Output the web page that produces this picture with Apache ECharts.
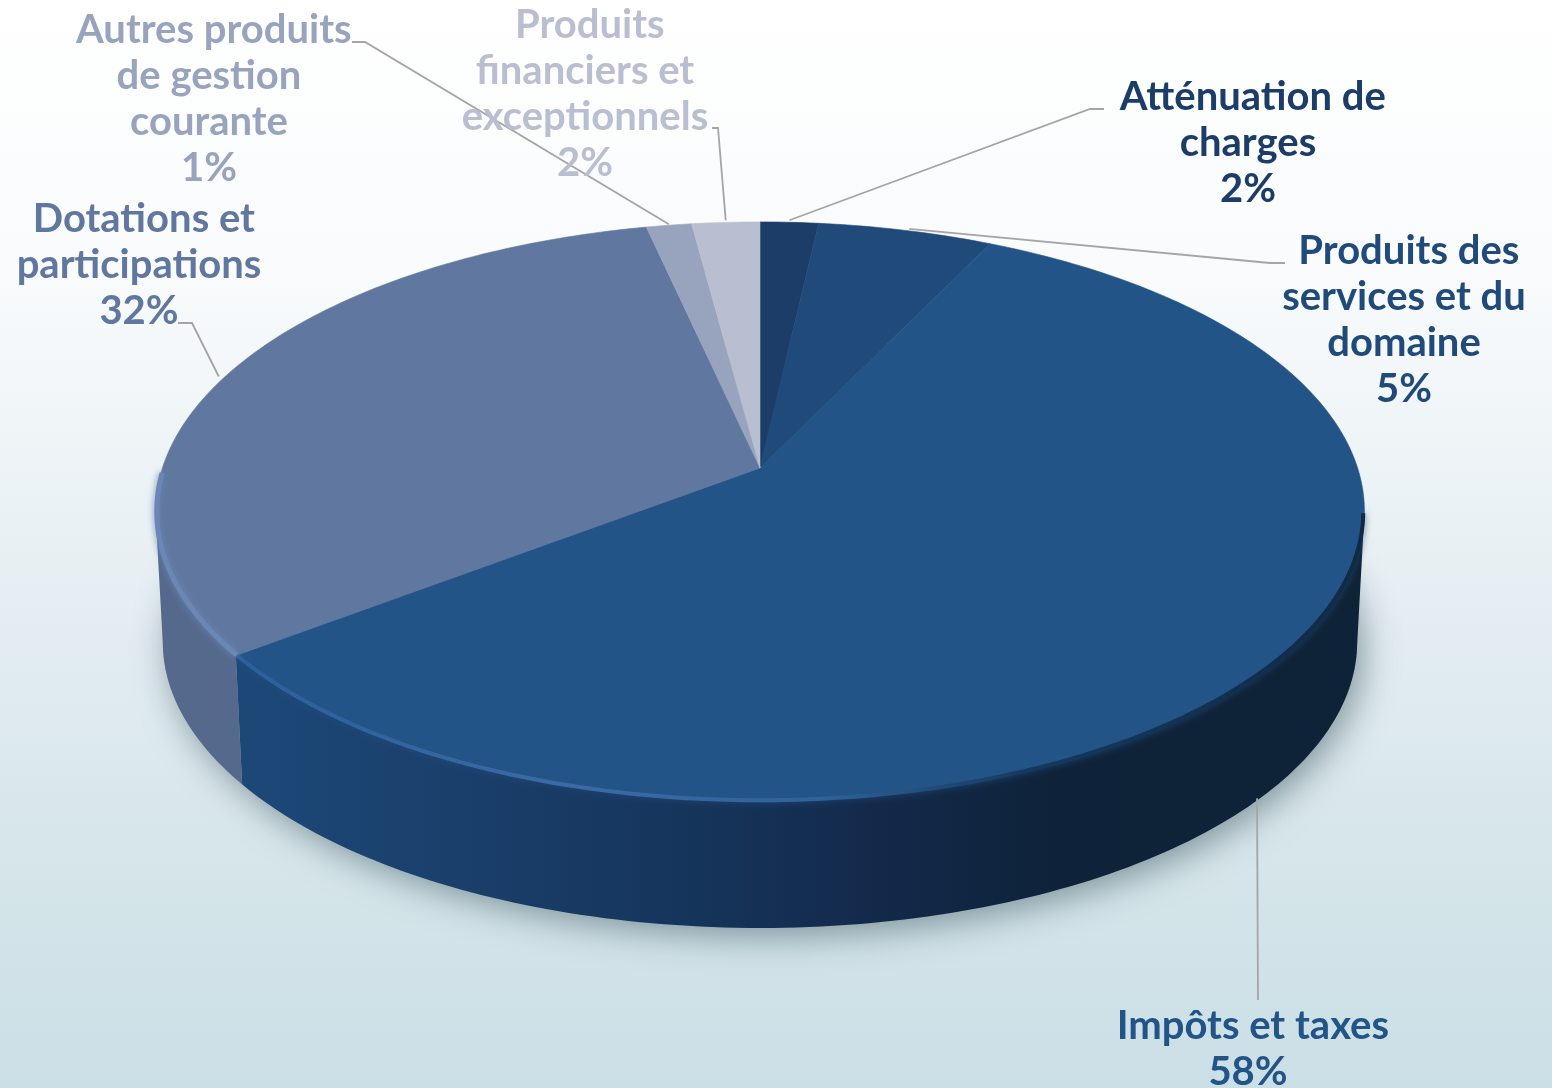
<!DOCTYPE html>
<html>
<head>
<meta charset="utf-8">
<script src="https://cdn.jsdelivr.net/npm/echarts@6/dist/echarts.min.js"></script>
<style>
html, body { margin: 0; padding: 0; background: #fff; }
#chart { width: 1552px; height: 1088px; }
</style>
</head>
<body>
<div id="chart"></div>
<script>
// donnees
var categories = [" Atténuation de\ncharges", " Produits des\nservices et du\ndomaine", " Impôts et taxes", " Dotations et\nparticipations", " Autres produits\nde gestion\ncourante", " Produits\nfinanciers et\nexceptionnels"];
var values = [1.8, 5.4, 57.5, 31.8, 1.4, 2.1];

// couleurs
var topColors = ["#1b3d68", "#1f4a7a", "#225488", "#60779f", "#98a4bd", "#b9bfd0"];
var textColors = ["#1b3d68", "#1f4a7a", "#225488", "#60779f", "#98a4bd", "#b9bfd0"];

// mise en page des etiquettes et des traits de rappel
var labelCenterX = [1248, 1404, 1248, 139, 209, 585];
var labelFirstLineY = [97, 251, 1026, 219, 30, 25];
var leaderElbows = [
    [[1104, 109], [1090, 109]],
    [[1285, 263], [1270, 263]],
    [[1258, 1000], [1258, 1000]],
    [[178, 323], [192, 323]],
    [[352, 42], [365, 42]],
    [[712, 128], [718, 128]]
];
// position du trait le long de la tranche, et decalage pour tomber sur le flanc
var leaderAlong = [0.5, 0.52, 0.51, 0.485, 0.5, 0.5];
var leaderDrop = [-2, -2, 122, -6, -1, -2];

// projection du disque
var cx = 760, cy = 468, A = 597.6, B = 283, K = 0.15;
var DEPTH = 131, BOTTOM_SCALE = 0.988;
var FONT_SIZE = 40, LINE_HEIGHT = 46;
// angles ou le bord du disque est le plus large : le flanc s'arrete la
var SIDE_FROM = 99, SIDE_TO = 261;

function project(deg, scale, dy) {
    var t = deg * Math.PI / 180;
    var u = Math.sin(t), v = -Math.cos(t);
    var w = 1 - K * v;
    return [cx + scale * A * u / w, cy + dy + scale * B * v / w];
}

function arcPoints(from, to, scale, dy) {
    var pts = [];
    var n = Math.max(2, Math.ceil(Math.abs(to - from)));
    for (var i = 0; i <= n; i++) {
        pts.push(project(from + (to - from) * i / n, scale, dy));
    }
    return pts;
}

function xGradient(stops) {
    return new echarts.graphic.LinearGradient(155, 0, 1365, 0, stops, true);
}

var sideFills = {
    2: xGradient([
        { offset: 0.07, color: "#1c4878" },
        { offset: 0.25, color: "#1a3f6b" },
        { offset: 0.45, color: "#15345a" },
        { offset: 0.6, color: "#13294a" },
        { offset: 0.75, color: "#0e2239" },
        { offset: 1, color: "#0e2337" }
    ]),
    3: "#55698c"
};
var rimStrokes = {
    2: xGradient([
        { offset: 0.07, color: "#2a609c" },
        { offset: 0.35, color: "#3a6ba6" },
        { offset: 0.55, color: "#2f6299" },
        { offset: 0.72, color: "#143a60" },
        { offset: 1, color: "#0e2a45" }
    ]),
    3: "#6a87b6"
};

var total = values.reduce(function (a, b) { return a + b; }, 0);

function renderSlice(params, api) {
    var i = api.value(0);
    var start = 0;
    for (var k = 0; k < i; k++) start += values[k];
    var a0 = start / total * 360;
    var a1 = (start + values[i]) / total * 360;
    var children = [];

    // flanc
    var s0 = Math.max(a0, SIDE_FROM), s1 = Math.min(a1, SIDE_TO);
    if (s1 > s0) {
        var sidePts = arcPoints(s0, s1, 1, 0).concat(arcPoints(s1, s0, BOTTOM_SCALE, DEPTH));
        children.push({
            type: "polygon",
            z2: 1,
            shape: { points: sidePts },
            style: { fill: sideFills[i] || topColors[i] }
        });
    }

    // dessus
    var topPts = [[cx, cy]].concat(arcPoints(a0, a1, 1, 0));
    children.push({
        type: "polygon",
        z2: 2,
        shape: { points: topPts },
        style: { fill: topColors[i], stroke: topColors[i], lineWidth: 0.6 }
    });

    // liseré clair du bord avant
    var r0 = Math.max(a0, SIDE_FROM), r1 = Math.min(a1, SIDE_TO + 8);
    if (r1 > r0) {
        children.push({
            type: "polyline",
            z2: 3,
            shape: { points: arcPoints(r0, r1, 0.998, 0) },
            style: {
                fill: null,
                stroke: rimStrokes[i],
                lineWidth: i === 3 ? 5 : 4,
                shadowBlur: 7,
                shadowColor: i === 2 ? "rgba(40,80,130,0.8)" : "#6a87b6"
            }
        });
    }

    // trait de rappel
    var end = project(a0 + (a1 - a0) * leaderAlong[i], 1, leaderDrop[i]);
    children.push({
        type: "polyline",
        z2: 4,
        shape: { points: leaderElbows[i].concat([end]) },
        style: { fill: null, stroke: "#a5a5a5", lineWidth: 1.8 }
    });

    // etiquette
    var text = categories[i] + "\n" + Math.round(values[i]) + "%";
    children.push({
        type: "text",
        z2: 5,
        x: labelCenterX[i],
        y: labelFirstLineY[i] - LINE_HEIGHT / 2,
        style: {
            text: text,
            fill: textColors[i],
            font: "bold " + FONT_SIZE + "px Lato",
            lineHeight: LINE_HEIGHT,
            align: "center",
            verticalAlign: "top"
        }
    });

    return { type: "group", children: children };
}

function renderShadow() {
    return {
        type: "polygon",
        shape: { points: arcPoints(0, 360, BOTTOM_SCALE, DEPTH) },
        style: {
            fill: "#8fa5ae",
            shadowBlur: 34,
            shadowColor: "rgba(70,95,105,0.6)",
            shadowOffsetX: 6,
            shadowOffsetY: 8
        }
    };
}

var chart = echarts.init(document.getElementById("chart"));
chart.setOption({
    animation: false,
    backgroundColor: new echarts.graphic.LinearGradient(0, 0, 0, 1, [
        { offset: 0, color: "#ffffff" },
        { offset: 0.25, color: "#f9fbfc" },
        { offset: 0.55, color: "#e5eef2" },
        { offset: 0.8, color: "#d5e5ea" },
        { offset: 1, color: "#cbdfe6" }
    ]),
    series: [
        {
            type: "custom",
            coordinateSystem: "none",
            z: 1,
            silent: true,
            data: [[0]],
            renderItem: renderShadow
        },
        {
            type: "custom",
            coordinateSystem: "none",
            z: 2,
            silent: true,
            data: values.map(function (v, i) { return [i, v]; }),
            renderItem: renderSlice
        }
    ]
});
</script>
</body>
</html>
